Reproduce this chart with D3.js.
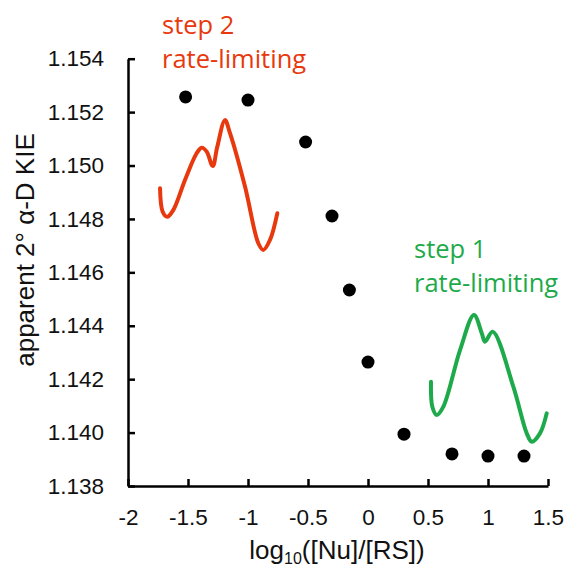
<!DOCTYPE html>
<html>
<head>
<meta charset="utf-8">
<script src="https://cdn.jsdelivr.net/npm/d3@7"></script>
<style>
  body { margin: 0; background: #fff; }
  svg { display: block; }
</style>
</head>
<body>
<svg id="chart" width="565" height="570"></svg>
<script>
// measured KIE points: log10([Nu]/[RS]) vs apparent KIE
const logRatio = [-1.52, -1.0, -0.52, -0.3, -0.155, 0.0, 0.3, 0.7, 1.0, 1.3];
const kie = [1.15257, 1.15245, 1.15088, 1.14811, 1.14534, 1.14264, 1.13994, 1.1392, 1.13912, 1.13912];

// hand-drawn free-energy sketches, in data units
const redX = [-1.733, -1.711, -1.673, -1.623, -1.525, -1.428, -1.386, -1.344, -1.294, -1.256, -1.192, -1.15, -1.025, -0.914, -0.873, -0.817, -0.756];
const redY = [1.14915, 1.14827, 1.14808, 1.14833, 1.14946, 1.15046, 1.15067, 1.15052, 1.14998, 1.1507, 1.1517, 1.15121, 1.14921, 1.14709, 1.14684, 1.14721, 1.14821];
const greenX = [0.525, 0.536, 0.573, 0.628, 0.767, 0.883, 0.948, 0.975, 1.039, 1.211, 1.323, 1.365, 1.433, 1.489];
const greenY = [1.1419, 1.14097, 1.14066, 1.14097, 1.14309, 1.1444, 1.14372, 1.1434, 1.14378, 1.14172, 1.13997, 1.13966, 1.13997, 1.14072];

const xTicks = [-2, -1.5, -1, -0.5, 0, 0.5, 1, 1.5];
const yTicks = [1.138, 1.14, 1.142, 1.144, 1.146, 1.148, 1.15, 1.152, 1.154];

const svg = d3.select("#chart");
const x = d3.scaleLinear().domain([-2, 1.5]).range([128, 548]);
const y = d3.scaleLinear().domain([1.138, 1.154]).range([486, 58.7]);

const tickFont = "'Liberation Sans', Arial, sans-serif";
const textFont = "'Open Sans', 'Noto Sans', sans-serif";

// axes
const xAxis = svg.append("g")
  .attr("transform", `translate(0,${y(1.138)})`)
  .call(d3.axisBottom(x).tickValues(xTicks).tickFormat(d => String(d))
    .tickSizeInner(-7).tickSizeOuter(0).tickPadding(23));
const yAxis = svg.append("g")
  .attr("transform", `translate(${x(-2)},0)`)
  .call(d3.axisLeft(y).tickValues(yTicks).tickFormat(d3.format(".3f"))
    .tickSizeInner(-7).tickSizeOuter(0).tickPadding(24));

[xAxis, yAxis].forEach(g => {
  g.select(".domain").attr("stroke", "#000").attr("stroke-width", 2.5);
  g.selectAll(".tick line").attr("stroke", "#000").attr("stroke-width", 2.5);
  g.selectAll(".tick text").attr("fill", "#111")
    .style("font-family", tickFont).style("font-size", "22.5px");
});

// axis titles
const xt = svg.append("text")
  .attr("x", 337).attr("y", 559)
  .attr("text-anchor", "middle")
  .style("font-family", tickFont).style("font-size", "26px").attr("fill", "#111");
xt.append("tspan").text("log");
xt.append("tspan").attr("dy", 5).style("font-size", "16px").text("10");
xt.append("tspan").attr("dy", -5).text("([Nu]/[RS])");

svg.append("text")
  .attr("transform", "translate(34,250) rotate(-90)")
  .attr("text-anchor", "middle")
  .style("font-family", tickFont).style("font-size", "26px").attr("fill", "#111")
  .text("apparent 2° α-D KIE");

// sketch curves
const line = d3.line().x(d => x(d[0])).y(d => y(d[1])).curve(d3.curveCatmullRom.alpha(0.5));
svg.append("path")
  .attr("d", line(d3.zip(redX, redY)))
  .attr("fill", "none").attr("stroke", "#E8380D").attr("stroke-width", 4)
  .attr("stroke-linecap", "round");
svg.append("path")
  .attr("d", line(d3.zip(greenX, greenY)))
  .attr("fill", "none").attr("stroke", "#1EAA4A").attr("stroke-width", 4)
  .attr("stroke-linecap", "round");

// data points
svg.selectAll("circle.pt")
  .data(d3.zip(logRatio, kie))
  .join("circle")
  .attr("class", "pt")
  .attr("cx", d => x(d[0]))
  .attr("cy", d => y(d[1]))
  .attr("r", 6.5)
  .attr("fill", "#000");

// annotations
const notes = [
  { lines: ["step 2", "rate-limiting"], x: 162, y: 34, color: "#E8380D" },
  { lines: ["step 1", "rate-limiting"], x: 414, y: 258, color: "#1EAA4A" },
];
notes.forEach(n => {
  svg.append("g").selectAll("text")
    .data(n.lines)
    .join("text")
    .attr("x", n.x)
    .attr("y", (d, i) => n.y + i * 34)
    .attr("fill", n.color)
    .style("font-family", textFont).style("font-size", "25.5px")
    .text(d => d);
});
</script>
</body>
</html>
